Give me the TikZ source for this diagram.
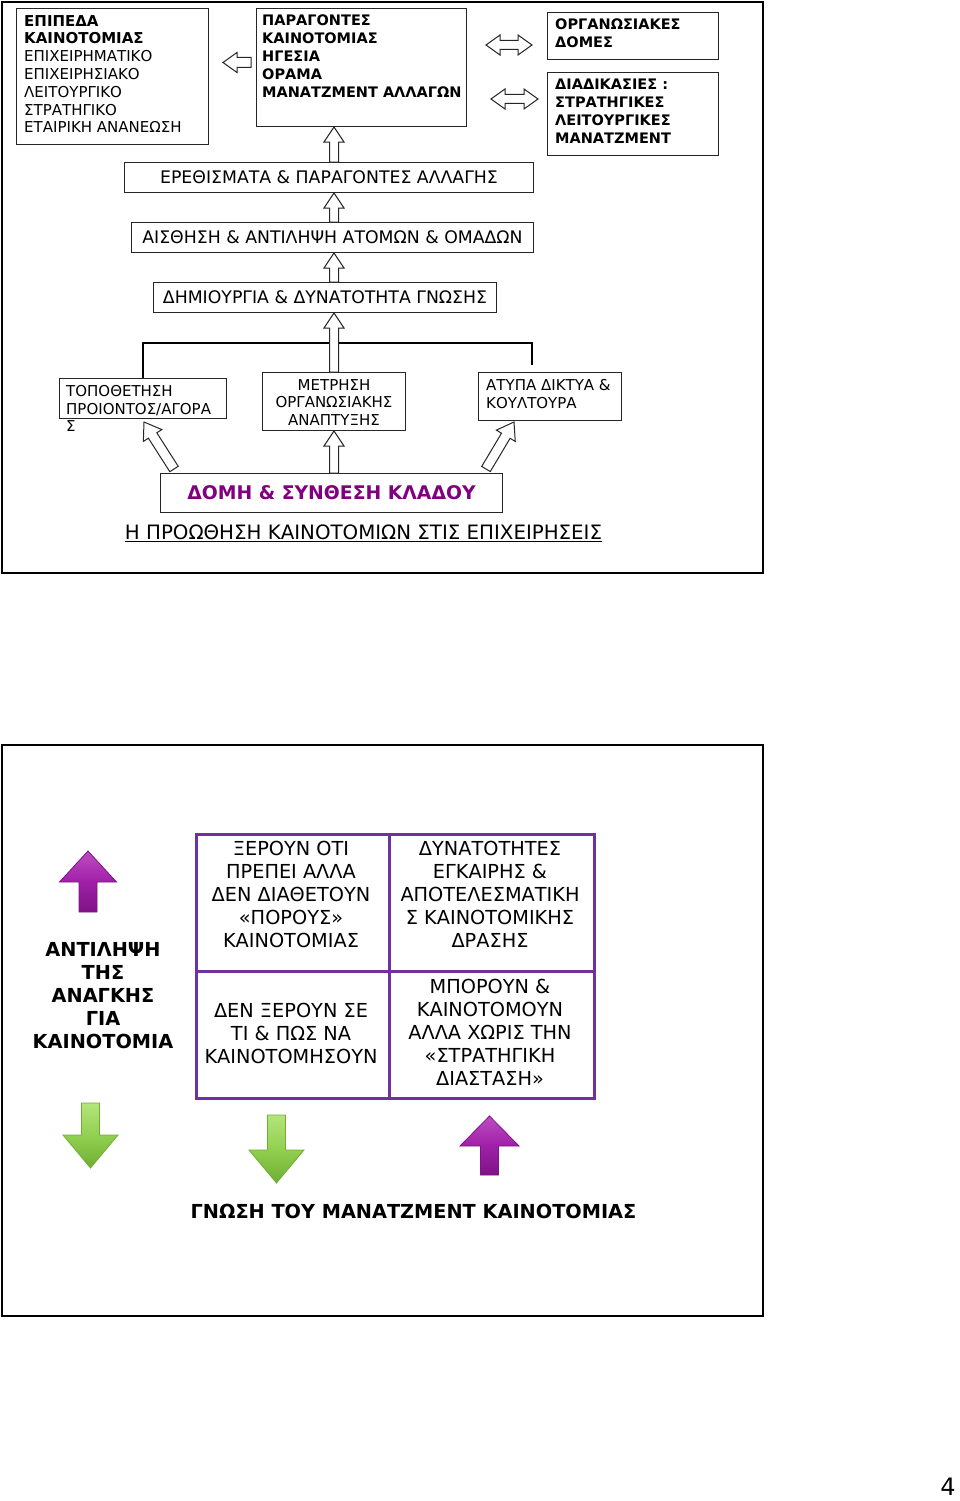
\documentclass[tikz,border=0pt]{standalone}
\usepackage{fontspec}
\setmainfont{DejaVu Sans}
\usepackage{xcolor}
\usetikzlibrary{calc, positioning}
\definecolor{Grid_Purple}{HTML}{7030A0}
\definecolor{Title_Purple}{HTML}{800080}
\definecolor{Arrow_Purple}{HTML}{A020A8}
\definecolor{Arrow_PurpleLight}{HTML}{BC4EC2}
\definecolor{Arrow_PurpleDark}{HTML}{7E1386}
\definecolor{Arrow_Green}{HTML}{92D050}
\definecolor{Arrow_GreenLight}{HTML}{B4E47C}
\definecolor{Arrow_GreenDark}{HTML}{6FAE34}

% block arrow: style, from, to, shaft half width, head half width, head length
\newcommand{\blockarrow}[6][]{%
  \draw[#1] let \p1=(#2), \p2=(#3), \n1={atan2(\y2-\y1,\x2-\x1)}, \n2={veclen(\x2-\x1,\y2-\y1)} in
    ($(\p1)+(\n1+90:#4)$) -- ($(\p1)+(\n1:\n2-#6)+(\n1+90:#4)$) -- ($(\p1)+(\n1:\n2-#6)+(\n1+90:#5)$)
    -- (\p2) -- ($(\p1)+(\n1:\n2-#6)+(\n1-90:#5)$) -- ($(\p1)+(\n1:\n2-#6)+(\n1-90:#4)$)
    -- ($(\p1)+(\n1-90:#4)$) -- cycle;
}
% two-way block arrow
\newcommand{\twowayarrow}[6][]{%
  \draw[#1] let \p1=(#2), \p2=(#3), \n1={atan2(\y2-\y1,\x2-\x1)}, \n2={veclen(\x2-\x1,\y2-\y1)} in
    (\p1) -- ($(\p1)+(\n1:#6)+(\n1+90:#5)$) -- ($(\p1)+(\n1:#6)+(\n1+90:#4)$)
    -- ($(\p1)+(\n1:\n2-#6)+(\n1+90:#4)$) -- ($(\p1)+(\n1:\n2-#6)+(\n1+90:#5)$)
    -- (\p2) -- ($(\p1)+(\n1:\n2-#6)+(\n1-90:#5)$) -- ($(\p1)+(\n1:\n2-#6)+(\n1-90:#4)$)
    -- ($(\p1)+(\n1:#6)+(\n1-90:#4)$) -- ($(\p1)+(\n1:#6)+(\n1-90:#5)$) -- cycle;
}

\tikzset{
  frame/.style={draw=black, line width=2},
  box/.style={draw=black!85, line width=1, inner sep=0, anchor=north west},
  cell/.style={draw=Grid_Purple, line width=3, inner sep=0, anchor=north west},
  smalltext/.style={font=\fontsize{15}{17.8}\selectfont, align=left, inner sep=0, anchor=north west},
  smallbold/.style={font=\bfseries\fontsize{14.5}{17.8}\selectfont, align=left, inner sep=0, anchor=north west},
  midtext/.style={font=\fontsize{17.3}{20}\selectfont},
  celltext/.style={font=\fontsize{19.3}{23}\selectfont, align=center, inner sep=0},
  boldtext/.style={font=\bfseries\fontsize{19.3}{23}\selectfont, align=center, inner sep=0},
  hollow/.style={draw=black!85, fill=white, line width=1},
  purplearrow/.style={draw=Arrow_PurpleDark, line width=0.8, top color=Arrow_PurpleLight, bottom color=Arrow_PurpleDark, middle color=Arrow_Purple},
  greenarrow/.style={draw=Arrow_GreenDark, line width=0.8, top color=Arrow_GreenLight, bottom color=Arrow_GreenDark, middle color=Arrow_Green},
}

\begin{document}
\begin{tikzpicture}[x=1pt, y=1pt]
    \useasboundingbox (0,0) rectangle (960,-1501);

    % Upper slide
    \draw[frame] (2,-2) rectangle (763,-573);

    \node[box, minimum width=192, minimum height=136] (levels) at (16,-8) {};
    \node[smalltext] (levelsText) at (24,-15) {\textbf{ΕΠΙΠΕΔΑ}\\\textbf{ΚΑΙΝΟΤΟΜΙΑΣ}\\ΕΠΙΧΕΙΡΗΜΑΤΙΚΟ\\ΕΠΙΧΕΙΡΗΣΙΑΚΟ\\ΛΕΙΤΟΥΡΓΙΚΟ\\ΣΤΡΑΤΗΓΙΚΟ\\ΕΤΑΙΡΙΚΗ ΑΝΑΝΕΩΣΗ};

    \node[box, minimum width=210, minimum height=118] (factors) at (256,-8) {};
    \node[smallbold] (factorsText) at (262,-15) {ΠΑΡΑΓΟΝΤΕΣ\\ΚΑΙΝΟΤΟΜΙΑΣ\\ΗΓΕΣΙΑ\\ΟΡΑΜΑ\\ΜΑΝΑΤΖΜΕΝΤ ΑΛΛΑΓΩΝ};

    \node[box, minimum width=171, minimum height=47] (structures) at (547,-12) {};
    \node[smallbold] (structuresText) at (555,-19) {ΟΡΓΑΝΩΣΙΑΚΕΣ\\ΔΟΜΕΣ};

    \node[box, minimum width=171, minimum height=83] (processes) at (547,-72) {};
    \node[smallbold] (processesText) at (555,-79) {ΔΙΑΔΙΚΑΣΙΕΣ :\\ΣΤΡΑΤΗΓΙΚΕΣ\\ΛΕΙΤΟΥΡΓΙΚΕΣ\\ΜΑΝΑΤΖΜΕΝΤ};

    \node[box, midtext, minimum width=409, minimum height=30] (stimuli) at (124,-162) {ΕΡΕΘΙΣΜΑΤΑ \& ΠΑΡΑΓΟΝΤΕΣ ΑΛΛΑΓΗΣ};
    \node[box, midtext, minimum width=402, minimum height=30] (perception) at (131,-222) {ΑΙΣΘΗΣΗ \& ΑΝΤΙΛΗΨΗ ΑΤΟΜΩΝ \& ΟΜΑΔΩΝ};
    \node[box, midtext, minimum width=343, minimum height=30] (knowledge) at (153,-282) {ΔΗΜΙΟΥΡΓΙΑ \& ΔΥΝΑΤΟΤΗΤΑ ΓΝΩΣΗΣ};

    \node[box, minimum width=167, minimum height=40] (positioning) at (59,-378) {};
    \node[smalltext] (positioningText) at (66,-385) {ΤΟΠΟΘΕΤΗΣΗ\\ΠΡΟΙΟΝΤΟΣ/ΑΓΟΡΑ\\Σ};

    \node[box, minimum width=143, minimum height=58] (measure) at (262,-372) {};
    \node[smalltext, align=center, anchor=center] (measureText) at ([yshift=-1]measure.center) {ΜΕΤΡΗΣΗ\\ΟΡΓΑΝΩΣΙΑΚΗΣ\\ΑΝΑΠΤΥΞΗΣ};

    \node[box, minimum width=143, minimum height=48] (networks) at (478,-372) {};
    \node[smalltext] (networksText) at (486,-379) {ΑΤΥΠΑ ΔΙΚΤΥΑ \&\\ΚΟΥΛΤΟΥΡΑ};

    \node[box, minimum width=342, minimum height=39, font=\bfseries\fontsize{18.8}{22}\selectfont, text=Title_Purple] (industry) at (160,-473) {ΔΟΜΗ \& ΣΥΝΘΕΣΗ ΚΛΑΔΟΥ};

    \node[font=\fontsize{19.8}{23}\selectfont, inner sep=0] (promotion) at (363.5,-533) {\underline{Η ΠΡΟΩΘΗΣΗ ΚΑΙΝΟΤΟΜΙΩΝ ΣΤΙΣ ΕΠΙΧΕΙΡΗΣΕΙΣ}};

    % Bracket over the three lower boxes
    \coordinate (bracketEnd) at (532,-365);
    \draw[line width=2.5] (positioning.north) -- ++(0,35) -| (bracketEnd);

    % Hollow arrows
    \blockarrow[hollow]{$(factors.west)+(-5,5)$}{$(levels.east)+(14,14)$}{5}{10}{14}
    \coordinate (dblA) at (486,-45);
    \coordinate (dblB) at (532,-45);
    \coordinate (dblC) at (491,-99);
    \coordinate (dblD) at (538,-99);
    \twowayarrow[hollow]{dblA}{dblB}{4.5}{10}{14}
    \twowayarrow[hollow]{dblC}{dblD}{4.5}{10}{14}
    \blockarrow[hollow]{stimuli.north -| measure.north}{factors.south -| measure.north}{4.5}{10}{15}
    \blockarrow[hollow]{perception.north -| measure.north}{stimuli.south -| measure.north}{4.5}{10}{15}
    \blockarrow[hollow]{knowledge.north -| measure.north}{perception.south -| measure.north}{4.5}{10}{15}
    \blockarrow[hollow]{measure.north}{knowledge.south -| measure.north}{4.5}{10}{15}
    \blockarrow[hollow]{industry.north -| measure.north}{measure.south}{4.5}{10}{15}
    \blockarrow[hollow]{$(industry.north west)+(14,4)$}{$(positioning.south)+(1,-3)$}{5}{11}{16}
    \blockarrow[hollow]{$(industry.north east)+(-17,4)$}{$(networks.south)+(-36,-1)$}{5}{11}{16}

    % Lower slide
    \draw[frame] (2,-745) rectangle (763,-1316);

    \node[cell, minimum width=193, minimum height=137] (knowButNo) at (195,-833) {};
    \node[cell, minimum width=205, minimum height=137] (canAct) at (388,-833) {};
    \node[cell, minimum width=193, minimum height=127] (dontKnow) at (195,-970) {};
    \node[cell, minimum width=205, minimum height=127] (canButNo) at (388,-970) {};

    \node[celltext] (knowButNoText) at (291,-894) {ΞΕΡΟΥΝ ΟΤΙ\\ΠΡΕΠΕΙ ΑΛΛΑ\\ΔΕΝ ΔΙΑΘΕΤΟΥΝ\\«ΠΟΡΟΥΣ»\\ΚΑΙΝΟΤΟΜΙΑΣ};
    \node[celltext] (canActText) at (490,-894) {ΔΥΝΑΤΟΤΗΤΕΣ\\ΕΓΚΑΙΡΗΣ \&\\ΑΠΟΤΕΛΕΣΜΑΤΙΚΗ\\Σ ΚΑΙΝΟΤΟΜΙΚΗΣ\\ΔΡΑΣΗΣ};
    \node[celltext] (dontKnowText) at (291,-1033) {ΔΕΝ ΞΕΡΟΥΝ ΣΕ\\ΤΙ \& ΠΩΣ ΝΑ\\ΚΑΙΝΟΤΟΜΗΣΟΥΝ};
    \node[celltext] (canButNoText) at (490,-1032.5) {ΜΠΟΡΟΥΝ \&\\ΚΑΙΝΟΤΟΜΟΥΝ\\ΑΛΛΑ ΧΩΡΙΣ ΤΗΝ\\«ΣΤΡΑΤΗΓΙΚΗ\\ΔΙΑΣΤΑΣΗ»};

    \node[boldtext] (need) at (103,-996) {ΑΝΤΙΛΗΨΗ\\ΤΗΣ\\ΑΝΑΓΚΗΣ\\ΓΙΑ\\ΚΑΙΝΟΤΟΜΙΑ};
    \node[boldtext] (management) at (413.5,-1211) {ΓΝΩΣΗ ΤΟΥ ΜΑΝΑΤΖΜΕΝΤ ΚΑΙΝΟΤΟΜΙΑΣ};

    % Coloured arrows
    \coordinate (upOneTail) at (88,-912);
    \coordinate (upOneTip) at (88,-851);
    \coordinate (downOneTail) at (90.5,-1103);
    \coordinate (downOneTip) at (90.5,-1168);
    \coordinate (downTwoTail) at (276.5,-1115);
    \coordinate (downTwoTip) at (276.5,-1183);
    \coordinate (upTwoTail) at (489.5,-1175);
    \coordinate (upTwoTip) at (489.5,-1116);
    \blockarrow[purplearrow]{upOneTail}{upOneTip}{9}{28.5}{31}
    \blockarrow[purplearrow]{upTwoTail}{upTwoTip}{9}{29.5}{30}
    \blockarrow[greenarrow]{downOneTail}{downOneTip}{9}{27.5}{33}
    \blockarrow[greenarrow]{downTwoTail}{downTwoTip}{9}{27.5}{33}

    % Page number
    \node[font=\fontsize{24}{28}\selectfont, inner sep=0] (pageNo) at (948,-1487) {4};
\end{tikzpicture}
\end{document}
